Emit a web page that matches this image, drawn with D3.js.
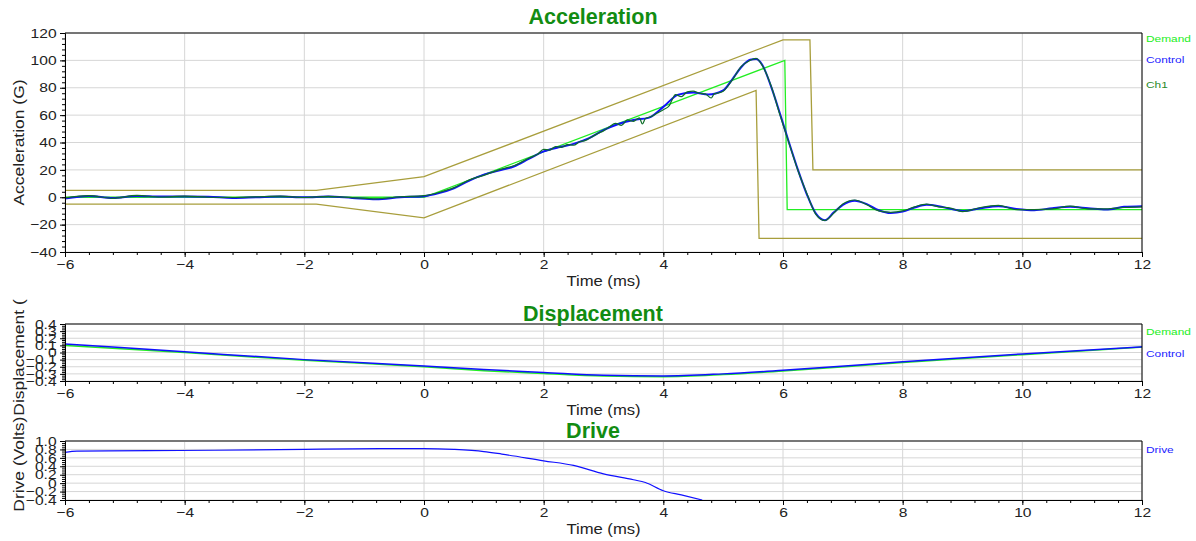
<!DOCTYPE html>
<html>
<head>
<meta charset="utf-8">
<script src="https://cdn.jsdelivr.net/npm/d3@7"></script>
<style>
  body { margin: 0; background: #fff; }
  text { font-family: Arial, "Liberation Sans", sans-serif; }
</style>
</head>
<body>
<div id="chart"></div>
<script>
// tick labels
var timeTicks = [-6, -4, -2, 0, 2, 4, 6, 8, 10, 12];
var accTicks = [-40, -20, 0, 20, 40, 60, 80, 100, 120];
var dispTicks = [-0.4, -0.3, -0.2, -0.1, 0, 0.1, 0.2, 0.3, 0.4];
var driveTicks = [-0.4, -0.2, 0, 0.2, 0.4, 0.6, 0.8, 1.0];

// acceleration: demand pulse and tolerance bands
var demandTime = [-6, 0, 6.03, 6.07, 12];
var demandAcc  = [0, 0, 100, -9, -9];
var upperTime = [-6, -1.8, 0, 6.0, 6.45, 6.5, 12];
var upperAcc  = [5, 5, 15, 115, 115, 20, 20];
var lowerTime = [-6, -1.8, 0, 5.55, 5.6, 12];
var lowerAcc  = [-5, -5, -15, 78, -30, -30];

// acceleration: control
var controlTime = [-6, -5.6, -5.2, -4.8, -4.4, -4.0, -3.6, -3.2, -2.8, -2.4, -2.0, -1.6, -1.2, -0.8, -0.4,
  0, 0.25, 0.5, 0.75, 1.0, 1.25, 1.5, 1.75,
  2.0, 2.25, 2.5, 2.75, 3.0, 3.25, 3.5, 3.75, 4.0, 4.25, 4.5, 4.75, 5.0,
  5.15, 5.3, 5.45, 5.55, 5.65, 5.8, 5.95,
  6.1, 6.25, 6.4, 6.55, 6.7, 6.85, 7.0,
  7.2, 7.4, 7.6, 7.8, 8.0, 8.2, 8.4, 8.6, 8.8, 9.0,
  9.3, 9.6, 9.9, 10.2, 10.5, 10.8, 11.1, 11.4, 11.7, 12];
var controlAcc = [-1, 1, -0.5, 1, 0.5, 0.5, 0.3, -0.5, 0, 0.5, 0, 0.5, -0.5, -1.5, 0,
  0.8, 3, 6.5, 12, 16.5, 19.5, 22.5, 28,
  33.5, 36.5, 39, 43, 49, 53.5, 56.5, 58, 66, 75, 76.5, 75, 78,
  86, 95, 100.5, 101, 97, 81, 61,
  40, 20, 2, -12, -16.8, -11, -5.5,
  -2.5, -5, -9.5, -11.5, -10.5, -7.5, -5.5, -6.5, -8.5, -10,
  -8, -6.5, -8.5, -9.5, -8, -7, -8, -9, -7, -6.5];

// acceleration: Ch1 (noisier measurement)
var ch1Time = [-6, -5.6, -5.2, -4.8, -4.4, -4.0, -3.6, -3.2, -2.8, -2.4, -2.0, -1.6, -1.2, -0.8, -0.4,
  0, 0.25, 0.5, 0.75, 1.0, 1.25, 1.5, 1.75,
  1.9, 2.0, 2.1, 2.2, 2.3, 2.4, 2.5, 2.6, 2.7, 2.8, 2.9, 3.0, 3.1, 3.2, 3.3, 3.4, 3.5, 3.6, 3.65,
  3.7, 3.8, 3.9, 4.0, 4.1, 4.15, 4.2, 4.3, 4.4, 4.5, 4.6, 4.7, 4.8, 4.85, 4.9, 5.0,
  5.15, 5.3, 5.45, 5.55, 5.65, 5.8, 5.95,
  6.1, 6.25, 6.4, 6.55, 6.7, 6.85, 7.0,
  7.2, 7.4, 7.6, 7.8, 8.0, 8.2, 8.4, 8.6, 8.8, 9.0,
  9.3, 9.6, 9.9, 10.2, 10.5, 10.8, 11.1, 11.4, 11.7, 12];
var ch1Acc = [-0.5, 1.2, -0.8, 1.3, 0.2, 0.8, 0, -0.2, 0.3, 0.8, -0.2, 0.7, -0.3, -1.2, 0.3,
  1.2, 3.5, 7, 12.5, 16, 20, 23, 28.5,
  31.5, 35, 34.5, 37, 36.5, 38.5, 38, 40.5, 41.5, 44, 46.5, 48.5, 51.5, 54, 52.5, 56.5, 55.5, 58, 53.5,
  57.5, 59, 61.5, 64, 67, 71.5, 75, 73.5, 77, 77.5, 76, 75.5, 72.5, 75.5, 76, 77.5,
  85.5, 95.5, 100, 101.5, 96.5, 81.5, 60,
  39.5, 19.5, 2.5, -12.5, -17, -11.5, -5,
  -2, -5.5, -10, -11, -10, -7, -5, -7, -8, -10.5,
  -7.5, -6, -9, -9, -8.5, -6.5, -8.5, -8.5, -7.5, -7];

// displacement
var dispTime    = [-6, -4, -2, 0, 1, 2, 3, 4, 5, 6, 8, 10, 12];
var dispControl = [0.12, 0.01, -0.10, -0.19, -0.24, -0.28, -0.32, -0.33, -0.30, -0.25, -0.13, -0.02, 0.08];
var dispDemand  = [0.10, 0.0, -0.11, -0.20, -0.255, -0.295, -0.33, -0.34, -0.31, -0.26, -0.14, -0.03, 0.075];

// drive
var driveTime  = [-6, -5.8, -4.6, -3.5, -2, -1.2, 0, 0.5, 1.0, 1.3, 2.0, 2.5, 3.0, 3.5, 3.7, 4.0, 4.3, 4.65];
var driveVolts = [0.73, 0.76, 0.77, 0.78, 0.80, 0.815, 0.82, 0.80, 0.75, 0.69, 0.53, 0.42, 0.22, 0.08, 0.015, -0.18, -0.28, -0.4];

var W = 1196, H = 541;
var left = 65, right = 1142;

var svg = d3.select("#chart")
  .append("svg")
    .attr("width", W)
    .attr("height", H);

var x = d3.scaleLinear().domain([-6, 12]).range([left, right]);
var xMinor = d3.range(-6, 12.001, 0.4);

function pts(t, v) { return t.map(function(d, i) { return [d, v[i]]; }); }

// stretched text helper (the original fonts render wide)
function label(g, txt, px, py, size, sx, rot, anchor, color, bold) {
  var tf = "translate(" + px + "," + py + ")" + (rot ? " rotate(-90)" : "") + " scale(" + sx + ",1)";
  return g.append("text")
    .attr("transform", tf)
    .attr("text-anchor", anchor)
    .style("font-size", size + "px")
    .style("font-weight", bold ? "bold" : "normal")
    .attr("fill", color)
    .text(txt);
}

function fmt1(d) { return Math.abs(d) < 1e-9 ? "0" : d3.format(".1f")(d); }

function panel(p) {
  var g = svg.append("g");
  var y = d3.scaleLinear().domain(p.domain).range([p.y1, p.y0]);
  var id = "clip" + p.y0;

  // grid
  g.append("g").selectAll("line").data(timeTicks).enter().append("line")
    .attr("x1", function(d) { return x(d); }).attr("x2", function(d) { return x(d); })
    .attr("y1", p.y0).attr("y2", p.y1)
    .attr("stroke", "#d6d6d6");
  g.append("g").selectAll("line").data(p.ticks).enter().append("line")
    .attr("x1", left).attr("x2", right)
    .attr("y1", function(d) { return y(d); }).attr("y2", function(d) { return y(d); })
    .attr("stroke", "#d6d6d6");

  g.append("clipPath").attr("id", id).append("rect")
    .attr("x", left).attr("y", p.y0).attr("width", right - left).attr("height", p.y1 - p.y0);

  var plot = g.append("g").attr("clip-path", "url(#" + id + ")");
  p.series.forEach(function(s) {
    var line = d3.line()
      .x(function(d) { return x(d[0]); })
      .y(function(d) { return y(d[1]); })
      .curve(s.smooth ? d3.curveMonotoneX : d3.curveLinear);
    plot.append("path")
      .datum(pts(s.t, s.v))
      .attr("d", line)
      .attr("fill", "none")
      .attr("stroke", s.color)
      .attr("stroke-width", s.w);
  });

  // frame
  g.append("line").attr("x1", left).attr("x2", right).attr("y1", p.y0).attr("y2", p.y0)
    .attr("stroke", p.topColor).attr("stroke-width", p.topWidth);
  g.append("line").attr("x1", right).attr("x2", right).attr("y1", p.y0).attr("y2", p.y1)
    .attr("stroke", "#000");

  // y axis
  g.append("g").attr("transform", "translate(" + left + ",0)")
    .call(d3.axisLeft(y).tickValues(p.minor).tickSize(3).tickSizeOuter(0).tickFormat(""));
  var ya = g.append("g").attr("transform", "translate(" + left + ",0)")
    .call(d3.axisLeft(y).tickValues(p.ticks).tickSize(5).tickSizeOuter(0).tickPadding(2).tickFormat(p.fmt));
  ya.selectAll("text").attr("transform", "scale(1.2,1)").style("font-size", "13px").attr("fill", "#222");

  // x axis
  g.append("g").attr("transform", "translate(0," + p.y1 + ")")
    .call(d3.axisBottom(x).tickValues(xMinor).tickSize(3).tickSizeOuter(0).tickFormat(""));
  var xa = g.append("g").attr("transform", "translate(0," + p.y1 + ")")
    .call(d3.axisBottom(x).tickValues(timeTicks).tickSize(5).tickSizeOuter(0).tickPadding(3).tickFormat(d3.format("d")));
  xa.selectAll("text").attr("transform", "scale(1.2,1)").style("font-size", "13px").attr("fill", "#222");
  g.selectAll(".domain, .tick line").attr("stroke", "#000");

  label(g, "Time (ms)", (left + right) / 2, p.y1 + 34, 15, 1.11, false, "middle", "#222");
  label(g, p.title, 593, p.titleY, 21.5, 1, false, "middle", "#128c12", true);

  p.legend.forEach(function(l) {
    label(g, l.name, 1146, l.y, 9.5, 1.25, false, "start", l.color);
  });
}

panel({
  y0: 33, y1: 252, domain: [-40, 120], ticks: accTicks, minor: d3.range(-40, 120.001, 4),
  fmt: d3.format("d"), title: "Acceleration", titleY: 24, topColor: "#000", topWidth: 1,
  series: [
    {t: upperTime, v: upperAcc, color: "#a89e3c", w: 1.3},
    {t: lowerTime, v: lowerAcc, color: "#a89e3c", w: 1.3},
    {t: demandTime, v: demandAcc, color: "#22ee22", w: 1.3},
    {t: controlTime, v: controlAcc, color: "#1010ff", w: 2, smooth: true},
    {t: ch1Time, v: ch1Acc, color: "#0e6e2a", w: 1.2, smooth: true}
  ],
  legend: [
    {name: "Demand", y: 42.3, color: "#22ee22"},
    {name: "Control", y: 63.3, color: "#2222ff"},
    {name: "Ch1", y: 88.3, color: "#2a8a2a"}
  ]
});

panel({
  y0: 324, y1: 381, domain: [-0.4, 0.4], ticks: dispTicks, minor: d3.range(-0.4, 0.4001, 0.025),
  fmt: fmt1, title: "Displacement", titleY: 321, topColor: "#777", topWidth: 2,
  series: [
    {t: dispTime, v: dispDemand, color: "#22ee22", w: 1.5, smooth: true},
    {t: dispTime, v: dispControl, color: "#1010ff", w: 1.5, smooth: true}
  ],
  legend: [
    {name: "Demand", y: 334.7, color: "#22ee22"},
    {name: "Control", y: 356.7, color: "#2222ff"}
  ]
});

panel({
  y0: 441, y1: 500, domain: [-0.4, 1.0], ticks: driveTicks, minor: d3.range(-0.4, 1.0001, 0.05),
  fmt: fmt1, title: "Drive", titleY: 437.7, topColor: "#777", topWidth: 2,
  series: [
    {t: driveTime, v: driveVolts, color: "#1010ff", w: 1.2, smooth: true}
  ],
  legend: [
    {name: "Drive", y: 452.7, color: "#2222ff"}
  ]
});

// y axis titles
label(svg, "Acceleration (G)", 24, 142.5, 14.2, 1.23, true, "middle", "#222");
label(svg, "Displacement (", 24, 415.7, 14.2, 1.23, true, "start", "#222");
label(svg, "Drive (Volts)", 24, 511.7, 14.2, 1.23, true, "start", "#222");
</script>
</body>
</html>
